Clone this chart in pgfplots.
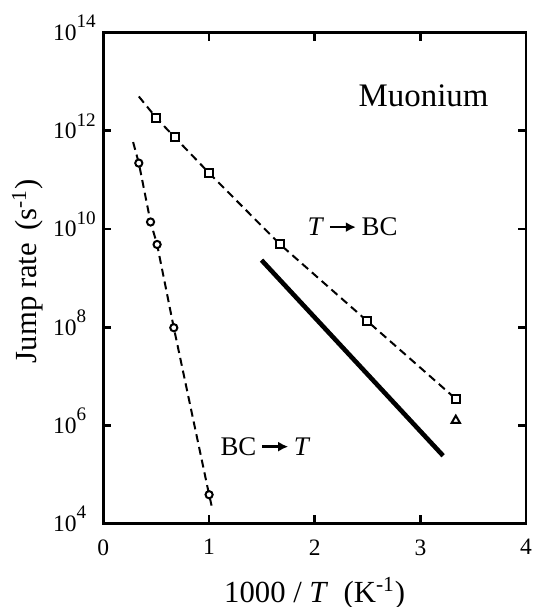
\documentclass[border=0pt]{standalone}
\usepackage{fontspec}
\setmainfont{Liberation Serif}
\usepackage{pgfplots}
\pgfplotsset{compat=1.18}
\usetikzlibrary{arrows.meta}

% tick labels 10^n set in the text font
\newcommand\dec[1]{10\raisebox{6.3bp}{\fontsize{9.6}{10}\selectfont #1}}
% heavy arrow used inside the T->BC labels
\newcommand\arr{\,\tikz[baseline={(0,-0.32em)}]\draw[line width=1.3bp,-{Latex[length=5bp,width=5bp]}](0,0)--(13bp,0);\,}

\begin{document}
\begin{tikzpicture}
\begin{axis}[name=ax,
  scale only axis, width=211.4bp, height=245.5bp,
  xmin=0, xmax=4, ymode=log, ymin=1e4, ymax=1e14,
  xtick={0,1,2,3,4},
  ytick={1e4,1e6,1e8,1e10,1e12,1e14},
  yticklabels={\dec{4},\dec{6},\dec{8},\dec{10},\dec{12},\dec{14}},
  yminorticks=false, tick align=inside, major tick length=4.1bp,
  axis line style={line width=1.35bp},
  every tick/.style={black, line width=1.35bp},
  tick label style={font=\fontsize{11.8}{13}\selectfont},
  /pgf/number format/assume math mode=true,
  xticklabel style={yshift=-4.4bp},
  yticklabel style={anchor=base west, inner sep=0pt, xshift=-25.3bp, yshift=-4bp},
  xlabel={1000 / \textit{T}\ \ (K\textsuperscript{-1})},
  ylabel={Jump rate\hspace{0.4em}(s\textsuperscript{-1})},
  label style={font=\fontsize{15.4}{18}\selectfont},
  xlabel style={at={(axis description cs:0.5,-0.160)}, anchor=base},
  ylabel style={at={(axis description cs:-0.158,0.514)}, anchor=base},
  clip=false]

% T -> BC: dashed guide through the squares
\addplot[black, line width=1bp, dash pattern=on 4bp off 2.5bp] coordinates
  {(0.336,5.00e12) (0.503,1.81e12) (0.674,7.45e11) (1.001,1.38e11)
   (1.670,4.91e9) (2.496,1.34e8) (3.335,3.47e6)};
% BC -> T: dashed guide through the circles
\addplot[black, line width=1bp, dash pattern=on 4bp off 2.5bp] coordinates
  {(0.282,5.89e11) (0.336,2.20e11) (0.447,1.39e10) (0.509,4.84e9)
   (0.667,9.77e7) (1.001,3.88e4) (1.033,1.93e4)};
% solid line
\addplot[black, line width=2.3bp] coordinates {(1.497,2.32e9) (3.215,2.41e5)};

\addplot[only marks, mark=square*, mark size=2bp,
  mark options={fill=white, draw=black, line width=1bp, solid}] coordinates
  {(0.503,1.81e12) (0.674,7.45e11) (1.001,1.38e11) (1.670,4.91e9)
   (2.496,1.34e8) (3.335,3.47e6)};
\addplot[only marks, mark=*, mark size=1.8bp,
  mark options={fill=white, draw=black, line width=1bp, solid}] coordinates
  {(0.336,2.20e11) (0.447,1.39e10) (0.509,4.84e9) (0.667,9.77e7) (1.001,3.88e4)};
\addplot[only marks, mark=triangle*, mark size=2.4bp,
  mark options={fill=white, draw=black, line width=1bp, solid}] coordinates
  {(3.335,1.26e6)};

\node[font=\fontsize{16.5}{18}\selectfont] at (axis cs:3.03,5.25e12) {Muonium};
\node[font=\fontsize{13.5}{16}\selectfont] at (axis cs:2.358,1.10e10) {\textit{T}\arr BC};
\node[font=\fontsize{13.5}{16}\selectfont] at (axis cs:1.535,3.72e5) {BC\arr\textit{T}};
\end{axis}
\pgfresetboundingbox
\path (ax.south west) ++(-51.65bp,-41.7bp) rectangle ++(267bp,303.5bp);
\end{tikzpicture}
\end{document}
